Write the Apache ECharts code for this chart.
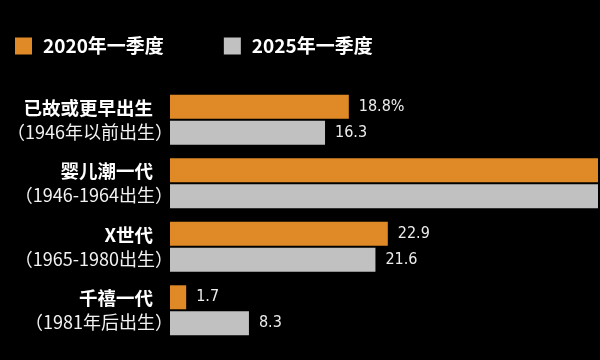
<!DOCTYPE html>
<html>
<head>
<meta charset="utf-8">
<script src="https://cdn.jsdelivr.net/npm/echarts@6/dist/echarts.min.js"></script>
<style>
html,body{margin:0;padding:0;background:#000;}
#chart{width:600px;height:360px;}
</style>
</head>
<body>
<div id="chart"></div>
<script>
const categories = ['已故或更早出生', '婴儿潮一代', 'X世代', '千禧一代'];
const subLabels = ['（1946年以前出生）', '（1946-1964出生）', '（1965-1980出生）', '（1981年后出生）'];
const seriesNames = ['2020年一季度', '2025年一季度'];
const values2020 = [18.8, 56.6, 22.9, 1.7];
const values2025 = [16.3, 53.8, 21.6, 8.3];

const chart = echarts.init(document.getElementById('chart'));
const cjk = "'Noto Sans CJK SC', sans-serif";
const narrow = "'DejaVu Sans Condensed', 'Liberation Sans Narrow', sans-serif";

const labelStyle = {
  show: true,
  position: 'right',
  distance: 10,
  color: '#ececec',
  fontSize: 16,
  fontFamily: narrow
};

chart.setOption({
  backgroundColor: '#000',
  animation: false,
  legend: {
    left: 15,
    top: 36,
    padding: 0,
    itemWidth: 17,
    itemHeight: 17,
    itemGap: 60,
    icon: 'rect',
    data: seriesNames,
    textStyle: {
      color: '#fff',
      fontSize: 19,
      fontWeight: 'bold',
      fontFamily: cjk,
      padding: [0, 0, 0, 6],
      lineHeight: 20
    }
  },
  grid: { left: 170, right: 2, top: 88, bottom: 18, containLabel: false },
  xAxis: {
    type: 'value',
    min: 0,
    max: 45,
    show: false
  },
  yAxis: {
    type: 'category',
    inverse: true,
    data: categories,
    axisLine: { show: false },
    axisTick: { show: false },
    axisLabel: {
      margin: -3,
      align: 'right',
      formatter: function (v, i) {
        return '{a|' + v + '}\n{b|' + subLabels[i] + '}';
      },
      rich: {
        a: { fontSize: 18.5, fontWeight: 'bold', color: '#fff', fontFamily: cjk, lineHeight: 24, padding: [0, 20, 0, 0] },
        b: { fontSize: 18, color: '#f2f2f2', fontFamily: cjk, lineHeight: 24 }
      }
    }
  },
  series: [
    {
      name: seriesNames[0],
      type: 'bar',
      data: values2020,
      barWidth: 24,
      barGap: '8%',
      itemStyle: { color: '#DF8A27' },
      label: Object.assign({}, labelStyle, {
        formatter: function (p) { return p.dataIndex === 0 ? p.value + '%' : String(p.value); }
      })
    },
    {
      name: seriesNames[1],
      type: 'bar',
      data: values2025,
      barWidth: 24,
      itemStyle: { color: '#C1C1C1' },
      label: labelStyle
    }
  ]
});
</script>
</body>
</html>
